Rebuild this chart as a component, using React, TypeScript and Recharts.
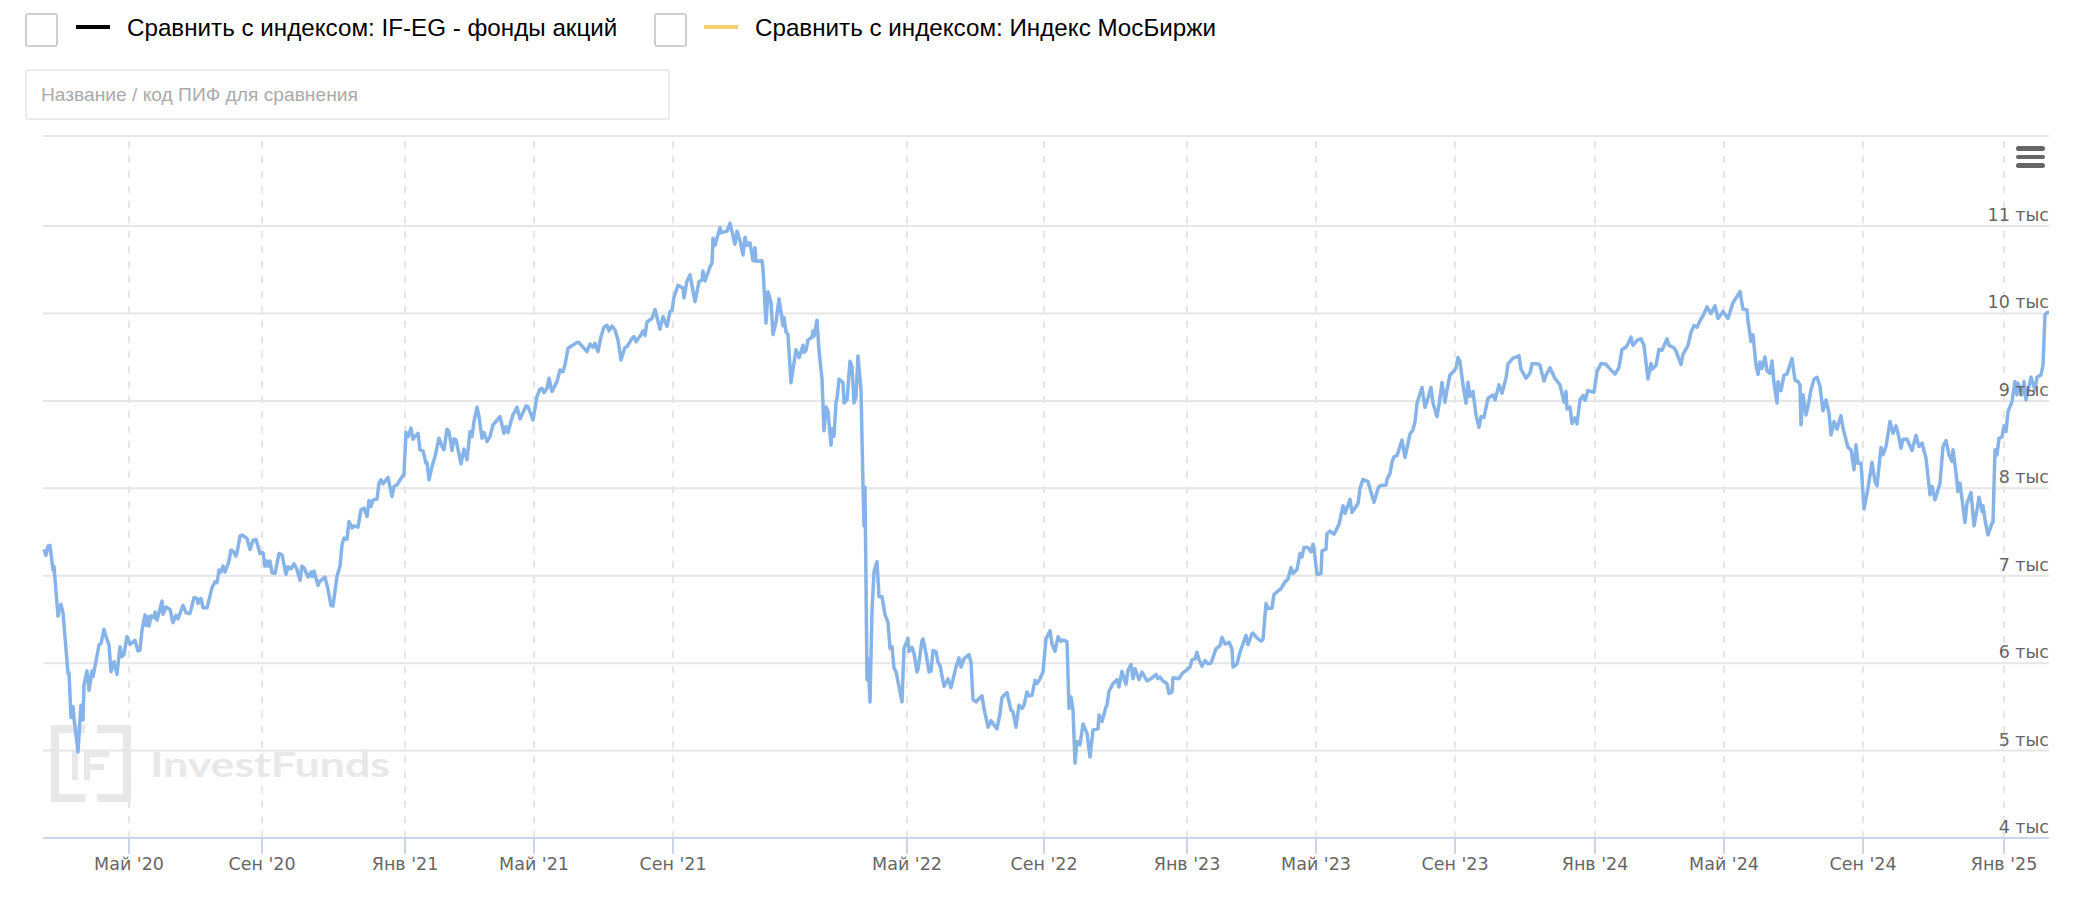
import React from "react";
import { LineChart, Line, XAxis, YAxis, CartesianGrid, ReferenceLine } from "recharts";

const legendLabels = ["Сравнить с индексом: IF-EG - фонды акций", "Сравнить с индексом: Индекс МосБиржи"];
const placeholderText = "Название / код ПИФ для сравнения";
const watermarkText = "InvestFunds";

const tickSessions = [86, 219, 362, 491, 630, 864, 1001, 1144, 1273, 1412, 1552, 1681, 1820, 1961];
const tickLabels = ["Май '20", "Сен '20", "Янв '21", "Май '21", "Сен '21", "Май '22", "Сен '22", "Янв '23", "Май '23", "Сен '23", "Янв '24", "Май '24", "Сен '24", "Янв '25"];
const valueTicks = [4000, 5000, 6000, 7000, 8000, 9000, 10000, 11000, 12030];
const valueDomain = [4000, 12030];
const sessionDomain = [0, 2006];

const sessions2020 = [1,3,5,7,10,11,15,18,20,25,26,28,30,31,32,35,37,38,40,41,44,46,49,50,53,56,58,61,63,66,68,71,74,77,79,81,84,87,92,95,97,99,102,103,105,106,108,111,112,114,119,120,123,127,130,133,135,140,143,147,151,154,155,158,160,164,166,169,172,174,176,178,180,182,186,188,190,193,194,197,199,204,207,210,213,217,220,222,224,225,227,229,232,236,239,243,245,248,251,254,257,259,261,265,268,269,271,275,277,282,285,288,290,294];
const nav2020 = [7301,7232,7339,7347,7065,7103,6539,6672,6577,5884,5891,5377,5503,5358,5282,4985,5358,5518,5350,5758,5910,5689,5910,5846,6025,6208,6223,6387,6303,6208,5903,6017,5872,6188,6074,6101,6303,6215,6261,6139,6150,6379,6550,6432,6531,6425,6539,6520,6585,6493,6710,6558,6642,6615,6463,6547,6508,6661,6577,6569,6749,6741,6684,6741,6634,6634,6722,6863,6931,6920,7065,7042,7110,7042,7168,7293,7282,7225,7263,7453,7465,7427,7301,7404,7415,7255,7263,7110,7168,7110,7168,7034,7027,7255,7240,7015,7103,7080,7137,7072,6947,7110,7091,6985,7042,6989,7053,6890,6939,6985,6844,6661,6653,6996];

const sessions2021a = [297,299,301,304,306,309,311,315,318,321,324,326,328,330,334,336,338,340,345,349,351,354,357,361,363,365,368,370,372,375,377,380,383,384,386,389,392,396,399,401,404,406,409,411,413,418,421,424,427,429,431,434,436,439,441,444,447,450,452,457,461,463,465,468,470,474,477,483,485,490,494,497,499,501,504,506,509,514,517,520,522,525,534,536,544,547,550,552,555,558,561,564,566,569,572,575,578,582,584,589,591,593];
const nav2021a = [7107,7354,7430,7419,7621,7545,7571,7556,7754,7773,7678,7861,7792,7868,7876,8059,8097,8051,8124,7907,8021,8040,8097,8162,8642,8592,8688,8562,8592,8630,8440,8428,8287,8295,8097,8249,8364,8573,8478,8440,8676,8649,8432,8566,8554,8280,8448,8326,8649,8592,8764,8928,8821,8573,8638,8535,8592,8726,8752,8821,8630,8707,8638,8764,8840,8928,8794,8943,8935,8783,9050,9133,9145,9095,9141,9259,9107,9221,9354,9335,9411,9602,9667,9667,9564,9651,9613,9659,9564,9735,9842,9865,9800,9857,9811,9697,9469,9613,9621,9716,9735,9678];

const sessions2021b = [597,600,602,604,609,612,617,620,624,627,629,631,635,640,641,644,647,652,656,659,660,662,667,669,670,672,677,678,684,687,692,694,697,700,702,704,707,710,712,713,719,720,723,725,728,730,733,736,740,741,743,745,748,753,756,760,761,763,765,769,770,771,774,776,779,781,783,785,788,789,791,793,794,796,800,801,804,807,809,811,813,815,818,820,821,822,824,825,827,829,831,834,836,839,842,845,847,849,851,853,859,861,865,866,869,871,874,875,879,880,883,886,888,890,893,895];
const nav2021b = [9739,9800,9747,9902,9943,10045,9820,9963,9853,10024,10033,10188,10322,10290,10180,10371,10441,10135,10363,10384,10486,10371,10534,10575,10861,10779,10983,10922,10942,11032,10791,10942,10832,10669,10873,10779,10808,10604,10751,10596,10604,10514,9890,10249,10126,9759,9902,10167,9861,9955,9788,9759,9208,9584,9494,9637,9555,9576,9698,9727,9800,9739,9922,9576,9249,8658,8931,8882,8494,8678,8596,8984,9025,9249,9208,8976,9013,9453,9392,8976,9045,9514,9127,8025,7568,8013,5810,6047,5557,6597,7046,7160,6761,6761,6556,6467,6169,6189,5944,5904,5557,6169,6283,6132,6181,6112,5900,5928,6258,6279,6112,5900,5908,6144,6132,6010];

const sessions2022 = [897,901,905,908,913,916,918,921,926,928,930,933,939,941,945,948,954,957,959,964,968,970,973,976,979,981,984,986,989,992,994,997,1000,1003,1007,1009,1012,1015,1018,1020,1024,1026,1028,1030,1032,1034,1037,1040,1044,1047,1050,1055,1056,1059,1063,1064,1066,1070,1074,1076,1079,1083,1085,1088,1090,1092,1096,1099,1104,1109,1113,1115,1117,1120,1124,1126,1129,1130,1136,1139,1147,1149,1152,1154,1156,1159,1162,1165,1168,1173,1177,1179,1182,1186,1189,1190,1194];
const nav2022 = [5974,5735,5822,5720,5955,6060,5955,6049,6098,6011,5584,5558,5626,5482,5267,5342,5248,5425,5607,5664,5463,5444,5267,5520,5482,5520,5671,5626,5633,5803,5766,5822,5898,6276,6370,6219,6136,6302,6249,6265,6246,5482,5614,5463,4858,5104,5066,5304,5199,4926,5236,5248,5407,5331,5501,5520,5679,5766,5811,5728,5906,5758,5917,5985,5822,5936,5811,5898,5796,5830,5871,5822,5841,5796,5766,5652,5671,5834,5822,5879,5955,6038,6049,6125,6038,5966,6030,5992,6000,6163,6200,6295,6219,6238,6163,5955,5992];

const sessions2023 = [1197,1200,1203,1205,1209,1210,1214,1218,1220,1223,1225,1229,1231,1238,1242,1245,1248,1250,1254,1257,1259,1261,1265,1268,1270,1272,1274,1278,1279,1283,1284,1287,1291,1296,1300,1302,1307,1309,1315,1317,1320,1325,1331,1335,1337,1343,1344,1347,1349,1351,1354,1359,1362,1367,1370,1372,1374,1379,1382,1385,1388,1390,1394,1396,1399,1402,1404,1407,1410,1413,1415,1417,1420,1423,1425,1427,1430,1433,1436,1438,1441,1445,1450,1452,1456,1459,1463,1465,1470,1476,1478,1483,1487,1489,1495];
const nav2023 = [6125,6223,6318,6211,6337,6345,6288,6253,6272,6681,6624,6632,6788,6853,6930,6960,7094,7025,7071,7254,7216,7323,7323,7273,7361,7216,7014,7025,7285,7304,7483,7510,7476,7587,7800,7713,7873,7724,7827,7999,8102,8076,7839,7999,8030,8037,8102,8171,8297,8362,8374,8553,8354,8622,8668,8763,8973,9153,8924,9031,9153,8973,8820,8954,9210,8985,9126,9298,9329,9374,9497,9451,9183,8973,9214,9050,9107,8840,8698,8820,8813,9031,9069,9011,9183,9088,9260,9424,9489,9516,9363,9260,9317,9424,9424];

const sessions2024a = [1497,1499,1501,1503,1507,1512,1517,1521,1523,1524,1527,1529,1532,1534,1537,1540,1542,1545,1551,1554,1558,1563,1566,1572,1576,1579,1583,1585,1588,1590,1594,1598,1601,1605,1608,1609,1613,1616,1619,1624,1626,1631,1633,1638,1640,1645,1648,1651,1654,1657,1660,1664,1668,1672,1675,1680,1685,1690,1697,1700,1704,1705,1708,1710,1713,1715,1717,1719,1722,1724,1727,1729,1731,1734,1735,1738,1741,1744,1749,1752,1755];
const nav2024a = [9408,9314,9227,9295,9378,9257,9182,8986,9106,8907,8929,8741,8805,8737,9012,9061,9005,9118,9099,9333,9427,9419,9378,9306,9382,9589,9615,9653,9729,9634,9691,9710,9634,9250,9427,9363,9408,9589,9578,9710,9634,9608,9570,9416,9533,9634,9785,9861,9842,9917,9974,10075,10000,10087,9943,10023,9943,10124,10249,10049,10041,9917,9680,9755,9408,9303,9446,9370,9502,9344,9314,9457,9201,8975,9220,9118,9295,9306,9484,9238,9220];

const sessions2024b = [1757,1758,1760,1763,1765,1768,1771,1774,1777,1780,1783,1786,1788,1791,1794,1798,1800,1805,1808,1811,1813,1815,1818,1821,1825,1829,1832,1834,1838,1840,1843,1847,1850,1853,1855,1858,1860,1864,1869,1873,1876,1879,1883,1887,1889,1892,1897,1900,1903,1906,1909,1910,1913,1915,1917,1922,1924,1928,1931,1934,1936,1939,1940,1942,1945,1949,1950,1952,1954,1956,1959,1961,1963,1965,1969,1972,1974,1975,1979,1981,1983,1988,1992,1994,1998,2000,2002,2004,2006];
const nav2024b = [9183,8726,9069,8840,8935,9126,9248,9270,9164,8886,9011,8859,8611,8764,8676,8832,8688,8467,8440,8211,8497,8287,8287,7762,8002,8299,8078,8028,8467,8383,8478,8764,8630,8714,8630,8459,8562,8562,8432,8604,8478,8516,8345,7926,8021,7868,8059,8478,8547,8383,8307,8440,8173,7964,8059,7609,7830,7952,7571,7754,7899,7735,7800,7640,7468,7602,7609,8440,8383,8573,8585,8714,8650,8878,8992,9221,9069,9202,9069,9221,9011,9270,9126,9270,9297,9411,9983,10010,10010];

const sessions = [...sessions2020, ...sessions2021a, ...sessions2021b, ...sessions2022, ...sessions2023, ...sessions2024a, ...sessions2024b];
const navValues = [...nav2020, ...nav2021a, ...nav2021b, ...nav2022, ...nav2023, ...nav2024a, ...nav2024b];
const rows = sessions.map((session, i) => ({ session, nav: navValues[i] }));

const AXIS_FONT = "'DejaVu Sans', sans-serif";
const LABEL_FONT = "'Liberation Sans', Arial, sans-serif";

const box = (left: number): React.CSSProperties => ({
  position: "absolute", left, top: 13, width: 33, height: 34, boxSizing: "border-box",
  border: "2px solid #cfcfcf", borderRadius: 3, background: "#fff",
});
const swatch = (left: number, color: string): React.CSSProperties => ({
  position: "absolute", left, top: 25, width: 34, height: 4, background: color,
});
const label = (left: number): React.CSSProperties => ({
  position: "absolute", left, top: 13, height: 30, lineHeight: "30px", fontFamily: LABEL_FONT,
  fontSize: 24.2, color: "#000", whiteSpace: "nowrap",
});

function ValueTick(props: any) {
  const v = props.payload.value;
  if (v > 11000) return null;
  return (
    <text x={2049} y={props.y - 5} textAnchor="end" fontFamily={AXIS_FONT} fontSize={17.5} fill="#666">
      {`${v / 1000} тыс`}
    </text>
  );
}

function SessionTick(props: any) {
  const i = tickSessions.indexOf(props.payload.value);
  return (
    <text x={props.x} y={870} textAnchor="middle" fontFamily={AXIS_FONT} fontSize={17.5} fill="#666">
      {tickLabels[i]}
    </text>
  );
}

function Watermark() {
  return (
    <svg width={400} height={90} style={{ position: "absolute", left: 45, top: 720 }}>
      <g fill="#e8e8e8">
        <rect x={6} y={5} width={34} height={8} />
        <rect x={6} y={5} width={8} height={77} />
        <rect x={6} y={74} width={34} height={8} />
        <rect x={52} y={5} width={34} height={8} />
        <rect x={78} y={5} width={8} height={77} />
        <rect x={52} y={74} width={34} height={8} />
        <rect x={27} y={31} width={6} height={29} />
        <rect x={39} y={31} width={6} height={29} />
        <rect x={39} y={31} width={25} height={6} />
        <rect x={39} y={44} width={20} height={6} />
      </g>
      <text x={105} y={57} fontFamily="Lato, sans-serif" fontSize={35} fill="#e8e8e8" textLength={240} lengthAdjust="spacingAndGlyphs" fontWeight={700}>
        {watermarkText}
      </text>
    </svg>
  );
}

export default function App() {
  return (
    <div style={{ position: "absolute", left: 0, top: 0, width: 2086, height: 902, background: "#fff", overflow: "hidden" }}>
      <div style={box(25)} />
      <div style={swatch(76, "#000")} />
      <div style={label(127)}>{legendLabels[0]}</div>
      <div style={box(654)} />
      <div style={swatch(704, "#f5cf6f")} />
      <div style={label(755)}>{legendLabels[1]}</div>
      <div style={{
        position: "absolute", left: 25, top: 69, width: 645, height: 51, boxSizing: "border-box",
        border: "2px solid #ececec", borderRadius: 3, lineHeight: "47px", paddingLeft: 14,
        fontFamily: LABEL_FONT, fontSize: 19.2, color: "#aaa",
      }}>{placeholderText}</div>
      <Watermark />
      <div style={{ position: "absolute", left: 0, top: 0 }}>
        <LineChart width={2086} height={902} data={rows} margin={{ top: 136, left: 43, right: 36, bottom: 0 }}>
          <CartesianGrid horizontal vertical={false} stroke="#e6e6e6" strokeWidth={2} />
          {tickSessions.map((t) => (
            <ReferenceLine key={t} x={t} stroke="#e6e6e6" strokeWidth={2} strokeDasharray="7 8" />
          ))}
          <XAxis
            dataKey="session" type="number" domain={sessionDomain} ticks={tickSessions} interval={0}
            height={64} axisLine={{ stroke: "#ccd6eb", strokeWidth: 2 }}
            tickLine={{ stroke: "#ccd6eb", strokeWidth: 2 }} tickSize={16} tick={<SessionTick />}
          />
          <YAxis
            type="number" domain={valueDomain} ticks={valueTicks} interval={0} width={1}
            orientation="right" axisLine={false} tickLine={false} tick={<ValueTick />}
          />
          <Line dataKey="nav" type="linear" stroke="#87b4e8" strokeWidth={3.5} dot={false} isAnimationActive={false} strokeLinejoin="round" />
        </LineChart>
      </div>
      <div style={{ position: "absolute", left: 2016, top: 146, width: 29, height: 22 }}>
        {[0, 8.6, 17.2].map((t) => (
          <div key={t} style={{ position: "absolute", left: 0, top: t, width: 29, height: 4.5, borderRadius: 2.5, background: "#666" }} />
        ))}
      </div>
    </div>
  );
}
